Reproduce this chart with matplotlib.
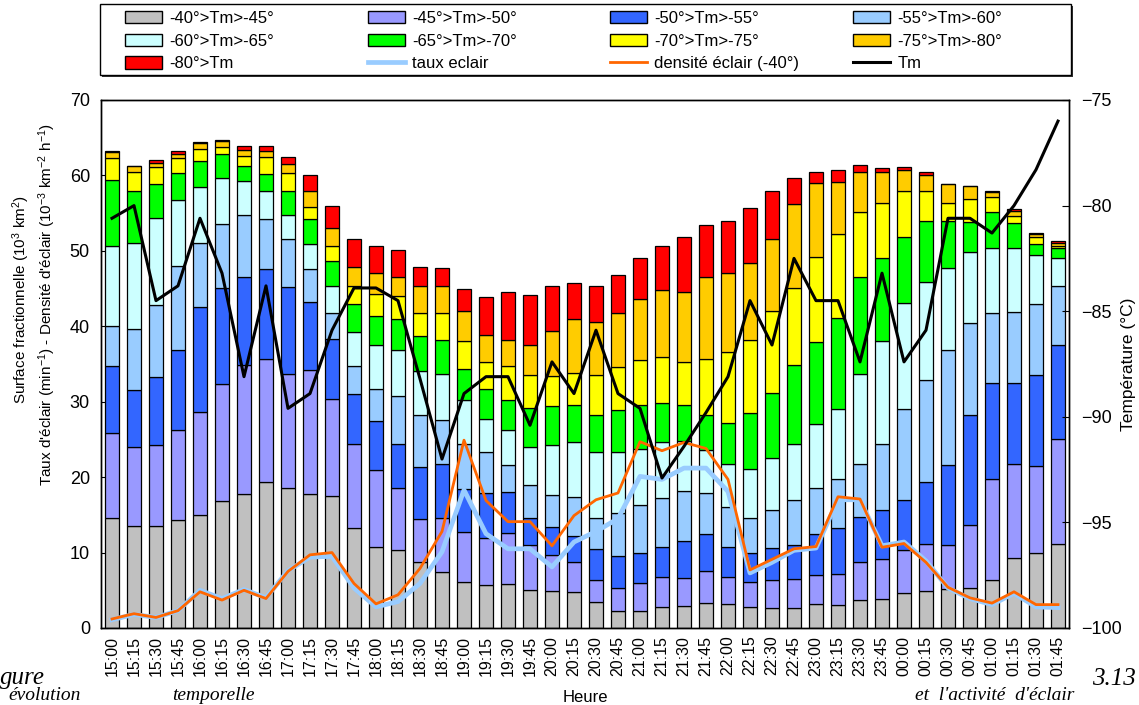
import matplotlib
matplotlib.use('Agg')
import matplotlib.pyplot as plt
import numpy as np
from matplotlib.patches import Patch, Rectangle
from matplotlib.lines import Line2D

plt.rcParams['font.family'] = ['Liberation Sans', 'DejaVu Sans']
plt.rcParams['mathtext.fontset'] = 'custom'
plt.rcParams['mathtext.rm'] = 'Liberation Sans'
plt.rcParams['mathtext.it'] = 'Liberation Sans:italic'

# ---------------- data ----------------
heures = ['15:00', '15:15', '15:30', '15:45', '16:00', '16:15', '16:30', '16:45',
          '17:00', '17:15', '17:30', '17:45', '18:00', '18:15', '18:30', '18:45',
          '19:00', '19:15', '19:30', '19:45', '20:00', '20:15', '20:30', '20:45',
          '21:00', '21:15', '21:30', '21:45', '22:00', '22:15', '22:30', '22:45',
          '23:00', '23:15', '23:30', '23:45', '00:00', '00:15', '00:30', '00:45',
          '01:00', '01:15', '01:30', '01:45']

classes = ['-40°>Tm>-45°', '-45°>Tm>-50°', '-50°>Tm>-55°', '-55°>Tm>-60°',
           '-60°>Tm>-65°', '-65°>Tm>-70°', '-70°>Tm>-75°', '-75°>Tm>-80°', '-80°>Tm']

s_40_45 = [14.6, 13.5, 13.5, 14.3, 15.0, 16.9, 17.8, 19.3, 18.5, 17.7, 17.5, 13.2, 10.8, 10.3, 8.7, 7.4,
           6.1, 5.7, 5.8, 5.1, 4.9, 4.8, 3.5, 2.3, 2.3, 2.8, 2.9, 3.3, 3.2, 2.8, 2.7, 2.7,
           3.2, 3.0, 3.7, 3.9, 4.6, 4.9, 5.2, 5.3, 6.4, 9.3, 10.0, 11.2]
s_45_50 = [11.2, 10.5, 10.7, 12.0, 13.6, 15.5, 17.1, 16.3, 15.2, 16.5, 12.8, 11.2, 10.1, 8.3, 5.8, 7.2,
           6.6, 6.2, 6.8, 5.9, 4.8, 3.9, 2.9, 3.0, 3.7, 3.9, 3.7, 4.2, 3.6, 3.3, 3.6, 3.8,
           3.8, 4.2, 5.0, 5.3, 5.7, 6.3, 5.8, 8.4, 13.3, 12.5, 11.5, 13.9]
s_50_55 = [9.0, 7.6, 9.1, 10.6, 13.9, 12.7, 11.7, 12.0, 11.5, 9.0, 8.0, 6.6, 6.6, 5.8, 6.9, 7.1,
           5.7, 6.0, 5.4, 3.6, 3.7, 3.5, 4.1, 4.3, 4.0, 4.1, 4.9, 4.9, 4.0, 3.9, 4.3, 4.5,
           5.5, 6.1, 6.0, 6.4, 6.7, 8.1, 10.6, 14.6, 12.8, 10.7, 12.0, 12.4]
s_55_60 = [5.2, 8.0, 9.5, 11.1, 8.5, 8.4, 8.1, 6.6, 6.4, 4.4, 3.5, 3.8, 4.2, 6.4, 6.9, 5.9,
           6.0, 5.4, 3.6, 4.3, 4.2, 5.2, 4.1, 5.7, 6.3, 6.4, 6.7, 5.5, 5.2, 4.6, 5.0, 6.0,
           6.0, 6.5, 7.0, 8.8, 12.1, 13.6, 15.2, 12.2, 9.2, 9.4, 9.5, 7.9]
s_60_65 = [10.7, 11.4, 11.5, 8.8, 7.5, 6.1, 4.5, 3.8, 3.1, 3.3, 3.6, 4.4, 5.8, 6.0, 5.8, 6.1,
           5.8, 4.4, 4.7, 5.1, 6.7, 7.2, 8.7, 8.0, 7.4, 7.5, 6.6, 5.7, 5.8, 6.5, 7.0, 7.4,
           8.5, 9.3, 12.0, 13.7, 14.0, 13.0, 10.9, 9.4, 8.7, 8.5, 6.5, 3.6]
s_65_70 = [8.7, 6.9, 4.5, 3.5, 3.4, 3.2, 2.0, 2.2, 3.3, 3.3, 3.3, 3.7, 3.9, 4.2, 4.6, 4.5,
           4.2, 4.0, 3.9, 5.2, 5.1, 4.9, 4.9, 5.6, 5.9, 5.1, 4.8, 4.7, 5.4, 7.4, 8.5, 10.5,
           10.9, 12.0, 12.8, 11.0, 8.7, 8.0, 6.2, 3.9, 4.7, 3.3, 1.4, 1.4]
s_70_75 = [2.9, 2.5, 2.3, 2.0, 1.6, 1.0, 1.4, 2.2, 2.3, 1.6, 2.0, 2.4, 2.9, 3.0, 3.0, 3.5,
           3.7, 3.5, 4.5, 4.3, 4.0, 4.3, 5.4, 5.7, 5.9, 6.1, 5.7, 7.4, 9.4, 9.7, 10.9, 10.2,
           11.3, 11.1, 8.6, 7.3, 6.2, 4.1, 2.4, 3.1, 2.1, 0.9, 1.0, 0.3]
s_75_80 = [0.8, 0.8, 0.6, 0.5, 0.8, 0.7, 0.8, 0.8, 1.2, 2.2, 2.3, 2.6, 2.8, 2.5, 3.7, 3.7,
           3.9, 3.7, 3.5, 4.0, 6.0, 7.1, 7.0, 7.1, 8.1, 8.9, 9.2, 10.8, 10.4, 10.2, 9.6, 11.1,
           9.8, 6.9, 5.3, 4.0, 2.7, 2.0, 2.6, 1.7, 0.6, 0.7, 0.4, 0.4]
s_80 = [0.2, 0.0, 0.3, 0.4, 0.1, 0.2, 0.5, 0.7, 0.9, 2.1, 3.0, 3.7, 3.6, 3.6, 2.4, 2.3,
        3.0, 5.0, 6.3, 6.7, 5.9, 4.9, 4.8, 5.1, 5.4, 5.9, 7.4, 6.9, 7.0, 7.3, 6.3, 3.4,
        1.5, 1.6, 1.0, 0.6, 0.4, 0.4, 0.0, 0.0, 0.2, 0.2, 0.1, 0.2]

taux_eclair = [1.1, 1.8, 1.4, 2.3, 5.0, 3.9, 5.1, 4.0, 7.6, 9.4, 9.5, 5.3, 2.8, 3.5, 5.9, 10.1,
               18.3, 12.5, 10.5, 10.5, 8.1, 11.4, 12.8, 14.5, 20.1, 19.7, 21.2, 21.2, 18.1, 7.3, 8.7, 10.3,
               10.6, 17.0, 17.0, 10.9, 11.4, 8.9, 5.3, 3.9, 3.1, 4.6, 2.8, 2.7]
densite_eclair = [1.2, 1.9, 1.4, 2.3, 4.8, 3.7, 5.0, 3.9, 7.5, 9.7, 10.0, 5.9, 3.2, 4.4, 7.9, 12.8,
                  24.9, 16.9, 14.1, 14.1, 10.9, 14.9, 17.0, 17.9, 24.7, 23.5, 24.6, 23.8, 19.7, 7.7, 9.1, 10.5,
                  10.8, 17.4, 17.1, 10.7, 11.2, 8.7, 5.4, 4.0, 3.3, 4.8, 3.1, 3.1]
tm = [-80.6, -80.0, -84.5, -83.8, -80.6, -83.2, -88.1, -83.8, -89.6, -88.9, -85.9, -83.9, -83.9, -84.5,
      -88.2, -92.0, -88.9, -88.1, -88.1, -90.4, -87.4, -88.9, -85.9, -88.9, -89.6, -92.9, -91.4, -89.8,
      -88.1, -84.5, -86.6, -82.5, -84.5, -84.5, -87.4, -83.2, -87.4, -85.9, -80.6, -80.6, -81.3, -80.0,
      -78.3, -76.0]

series = [s_40_45, s_45_50, s_50_55, s_55_60, s_60_65, s_65_70, s_70_75, s_75_80, s_80]
colors = ['#C0C0C0', '#9999FF', '#3366FF', '#99CCFF', '#CCFFFF', '#00FF00', '#FFFF00', '#FFCC00', '#FF0000']

# ---------------- figure ----------------
W, H = 1139, 705
fig = plt.figure(figsize=(W / 100, H / 100), dpi=100)
L, R, T, B = 101, 1069, 100, 628
ax = fig.add_axes([L / W, 1 - B / H, (R - L) / W, (B - T) / H])

x = np.arange(len(heures))
bottom = np.zeros(len(heures))
for vals, col, lab in zip(series, colors, classes):
    v = np.array(vals)
    ax.bar(x, v, width=0.68, bottom=bottom, color=col, edgecolor='black', linewidth=0.9, label=lab, zorder=2)
    bottom += v

ax.plot(x, taux_eclair, color='#99CCFF', lw=3.4, zorder=3, label='taux eclair')
ax.plot(x, densite_eclair, color='#FF6600', lw=2.0, zorder=4, label='densité éclair (-40°)')

ax.set_xlim(-0.5, len(heures) - 0.5)
ax.set_ylim(0, 70)
ax.set_yticks(np.arange(0, 71, 10))
ax.set_xticks(x)
ax.set_xticklabels(heures, rotation=90, fontsize=11.5)
ax.tick_params(axis='x', length=0, pad=5.5)
ax.tick_params(axis='y', direction='in', length=5, labelsize=13, pad=8)

ax2 = ax.twinx()
ax2.plot(x, tm, color='black', lw=2.2, label='Tm')
ax2.set_ylim(-100, -75)
ax2.set_yticks(np.arange(-100, -74, 5))
ax2.tick_params(axis='y', direction='in', length=5, labelsize=13, pad=9)

for a in (ax, ax2):
    for sp in a.spines.values():
        sp.set_linewidth(1.0)
        sp.set_color('black')

# axis labels
fig.text(21 / W, 1 - 300 / H, r'Surface fractionnelle (10$^{3}$ km$^{2}$)',
         rotation=90, ha='center', va='center', fontsize=11)
fig.text(47 / W, 1 - 305 / H,
         r"Taux d'éclair (min$^{-1}$) - Densité d'éclair (10$^{-3}$ km$^{-2}$ h$^{-1}$)",
         rotation=90, ha='center', va='center', fontsize=11)
fig.text(1128 / W, 1 - 364 / H, 'Température (°C)', rotation=90, ha='center', va='center', fontsize=12.5)
fig.text(585 / W, 1 - 697 / H, 'Heure', ha='center', va='center', fontsize=12)

# legend frame with shadow
fx0, fy0, fx1, fy1 = 100, 4, 1071, 75
fig.patches.append(Rectangle(((fx0 + 2) / W, 1 - (fy1 + 2) / H), (fx1 - fx0) / W, (fy1 - fy0) / H,
                             transform=fig.transFigure, facecolor='#333333', edgecolor='none', zorder=0))
fig.patches.append(Rectangle((fx0 / W, 1 - fy1 / H), (fx1 - fx0) / W, (fy1 - fy0) / H,
                             transform=fig.transFigure, facecolor='white', edgecolor='black', lw=1.0, zorder=1))

patch_h = [Patch(facecolor=c, edgecolor='black', linewidth=1.0) for c in colors]
line_h = [Line2D([], [], color='#99CCFF', lw=3.4),
          Line2D([], [], color='#FF6600', lw=2.0),
          Line2D([], [], color='black', lw=2.2)]
all_h = patch_h + line_h
all_l = classes + ['taux eclair', 'densité éclair (-40°)', 'Tm']
col_x = [125, 368, 610, 853]
for c in range(4):
    idx = [c, c + 4, c + 8]
    leg = fig.legend([all_h[i] for i in idx], [all_l[i] for i in idx],
                     loc='upper left', bbox_to_anchor=(col_x[c] / W, 1 - 11 / H),
                     frameon=False, borderpad=0, borderaxespad=0, fontsize=12,
                     handlelength=2.2, handleheight=0.75, handletextpad=0.45, labelspacing=0.46)
    leg.set_zorder(5)

# caption fragments from the surrounding document
serif = dict(family='Liberation Serif', style='italic', ha='left', va='baseline')
fig.text(0 / W, 1 - 684 / H, 'gure', fontsize=18, **serif)
fig.text(1092 / W, 1 - 685 / H, '3.13', fontsize=18, **serif)
fig.text(8 / W, 1 - 700 / H, 'évolution', fontsize=14, **serif)
fig.text(172 / W, 1 - 700 / H, 'temporelle', fontsize=14, **serif)
fig.text(915 / W, 1 - 700 / H, "et  l'activité  d'éclair", fontsize=14, **serif)

fig.savefig('out.png', dpi=100)
